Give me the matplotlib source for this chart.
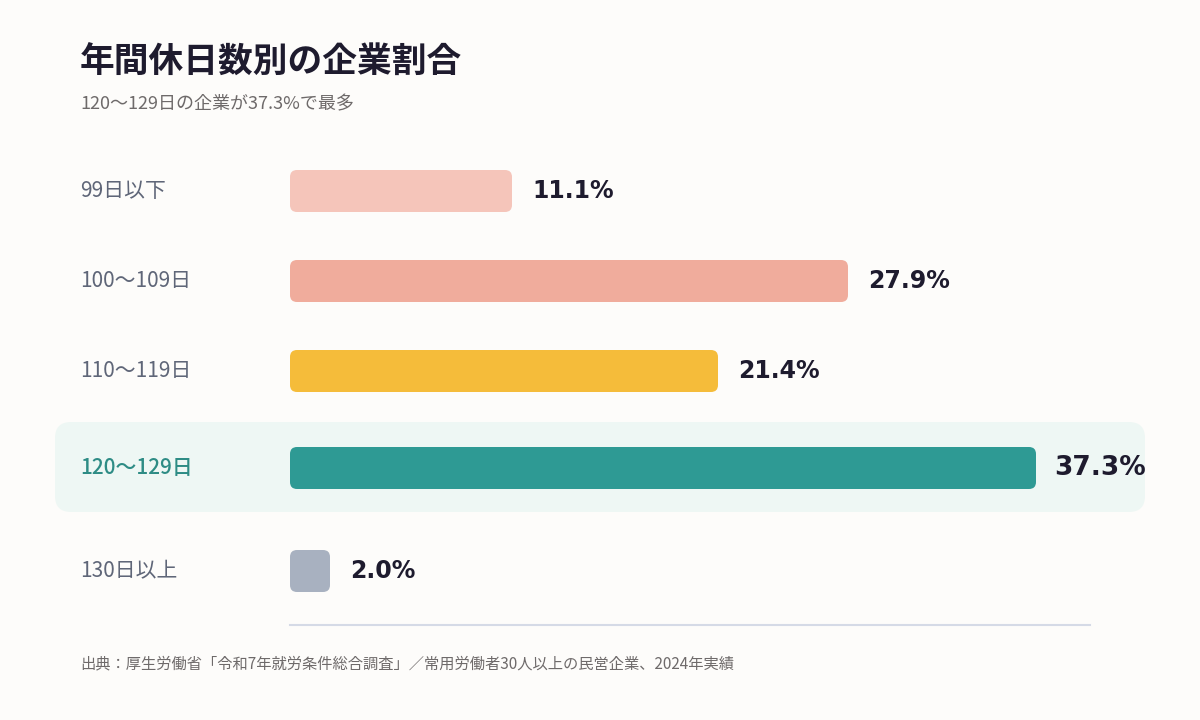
import matplotlib
matplotlib.use("Agg")
import matplotlib.pyplot as plt
from matplotlib.patches import FancyBboxPatch

plt.rcParams['font.family'] = ['Noto Sans CJK JP', 'DejaVu Sans']

categories = ["99日以下", "100〜109日", "110〜119日", "120〜129日", "130日以上"]
values = [11.1, 27.9, 21.4, 37.3, 2.0]
colors = ["#F5C5BA", "#F0AC9C", "#F5BC3A", "#2E9A94", "#A8B1C0"]
highlight = 3

fig = plt.figure(figsize=(12, 7.2), dpi=100)
fig.patch.set_facecolor("#FDFCFA")
ax = fig.add_axes([0, 0, 1, 1])
ax.set_xlim(0, 1200)
ax.set_ylim(720, 0)
ax.axis("off")

x0 = 290
scale = 20.0  # px per %
ys = [191, 281, 371, 468, 571]
bh = 42

# highlight band
ax.add_patch(FancyBboxPatch((55 + 16, 422 + 16), 1090 - 32, 90 - 32,
                            boxstyle="round,pad=16", fc="#EEF7F4", ec="none"))

for i, (c, v, col, y) in enumerate(zip(categories, values, colors, ys)):
    w = v * scale
    r = 7
    ax.add_patch(FancyBboxPatch((x0 + r, y - bh / 2 + r), w - 2 * r, bh - 2 * r,
                                boxstyle=f"round,pad={r}", fc=col, ec="none"))
    hl = i == highlight
    ax.text(80, y, c, fontsize=15, va="center", ha="left",
            color="#2E8C85" if hl else "#5F6678", fontweight="medium" if hl else "normal")
    ax.text(x0 + w + (18 if hl else 20), y, f"{v:.1f}%", va="center", ha="left",
            fontsize=19 if hl else 17, fontweight="heavy" if hl else "semibold",
            color="#1E1B2E", family=["DejaVu Sans"])

ax.plot([290, 1090], [625, 625], color="#D5DAE6", lw=1.5)

ax.text(80, 62, "年間休日数別の企業割合", fontsize=25, fontweight="bold", color="#1E1B2E", va="center")
ax.text(80, 104, "120〜129日の企業が37.3%で最多", fontsize=13, color="#6E6A6A", va="center")
ax.text(80, 664, "出典：厚生労働省「令和7年就労条件総合調査」／常用労働者30人以上の民営企業、2024年実績",
        fontsize=11, color="#6E6A6A", va="center")

fig.savefig("out.png", dpi=100, facecolor=fig.get_facecolor())
